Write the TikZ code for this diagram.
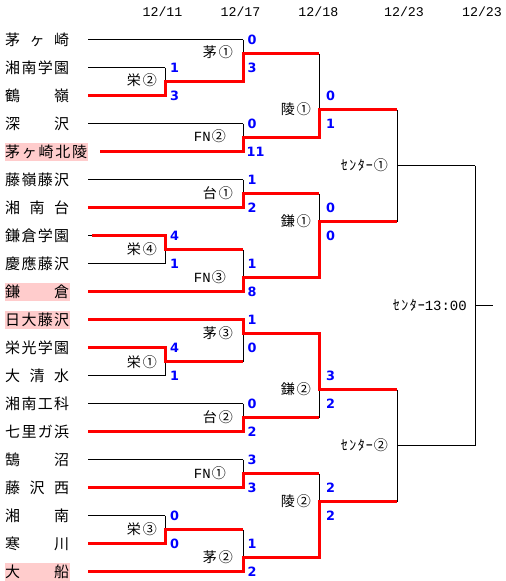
\documentclass[tikz,border=0pt]{standalone}
\usepackage{fontspec}
\newfontfamily\jp{Noto Sans CJK JP}
\newfontfamily\mono{Liberation Mono}
\newfontfamily\scf{DejaVu Sans}
\definecolor{pinkbg}{RGB}{255,204,204}
\definecolor{scblue}{RGB}{0,0,255}
\definecolor{winred}{RGB}{255,0,0}
\tikzset{
  team/.style={anchor=west, inner sep=0pt, font=\jp\fontsize{15}{15}\selectfont},
  pinkteam/.style={team, fill=pinkbg, inner xsep=0.5pt, minimum height=18pt},
  game/.style={anchor=east, inner sep=0pt, font=\jp\fontsize{14}{14}\selectfont},
  score/.style={anchor=west, inner sep=0pt, text=scblue, font=\scf\bfseries\fontsize{12.8}{12.8}\selectfont},
  datelbl/.style={inner sep=0pt, font=\mono\fontsize{13.3}{13.3}\selectfont},
  bline/.style={draw=black, line width=1pt},
  rline/.style={draw=winred, line width=3pt},
}
\newcommand\cen{ｾ\kern1.5ptﾝ\kern1.5ptﾀ\kern1ptｰ}
\begin{document}
\begin{tikzpicture}[x=1pt,y=-1pt]
\useasboundingbox (0,0) rectangle (506,581);
% grid coordinates
\foreach \c/\x in {0/88,1/165,2/243,3/319,4/397,5/475,6/493}{
  \foreach \k in {0,...,38}{
    \coordinate (c\c-\k) at (\x,{39.5+14*\k});
  }
}
\coordinate (s4) at (100,151.5);
\coordinate (s7) at (92,235.5);
% dates
\node[datelbl] (d1) at (162.5,12) {12/11};
\node[datelbl] (d2) at (240.5,12) {12/17};
\node[datelbl] (d3) at (318.3,12) {12/18};
\node[datelbl] (d4) at (404,12) {12/23};
\node[datelbl] (d5) at (482,12) {12/23};
% teams
\node[team] (n0) at (5,39.5) {\makebox[64pt][s]{茅\hfill ヶ\hfill 崎}};
\node[team] (n1) at (5,67.5) {\makebox[64pt][s]{湘\hfill 南\hfill 学\hfill 園}};
\node[team] (n2) at (5,95.5) {\makebox[64pt][s]{鶴\hfill 嶺}};
\node[team] (n3) at (5,123.5) {\makebox[64pt][s]{深\hfill 沢}};
\node[pinkteam] (n4) at (4.5,151.5) {\makebox[82pt][s]{茅\hfill ヶ\hfill 崎\hfill 北\hfill 陵}};
\node[team] (n5) at (5,179.5) {\makebox[64pt][s]{藤\hfill 嶺\hfill 藤\hfill 沢}};
\node[team] (n6) at (5,207.5) {\makebox[64pt][s]{湘\hfill 南\hfill 台}};
\node[team] (n7) at (5,235.5) {\makebox[64pt][s]{鎌\hfill 倉\hfill 学\hfill 園}};
\node[team] (n8) at (5,263.5) {\makebox[64pt][s]{慶\hfill 應\hfill 藤\hfill 沢}};
\node[pinkteam] (n9) at (4.5,291.5) {\makebox[64pt][s]{鎌\hfill 倉}};
\node[pinkteam] (n10) at (4.5,319.5) {\makebox[64pt][s]{日\hfill 大\hfill 藤\hfill 沢}};
\node[team] (n11) at (5,347.5) {\makebox[64pt][s]{栄\hfill 光\hfill 学\hfill 園}};
\node[team] (n12) at (5,375.5) {\makebox[64pt][s]{大\hfill 清\hfill 水}};
\node[team] (n13) at (5,403.5) {\makebox[64pt][s]{湘\hfill 南\hfill 工\hfill 科}};
\node[team] (n14) at (5,431.5) {\makebox[64pt][s]{七\hfill 里\hfill ガ\hfill 浜}};
\node[team] (n15) at (5,459.5) {\makebox[64pt][s]{鵠\hfill 沼}};
\node[team] (n16) at (5,487.5) {\makebox[64pt][s]{藤\hfill 沢\hfill 西}};
\node[team] (n17) at (5,515.5) {\makebox[64pt][s]{湘\hfill 南}};
\node[team] (n18) at (5,543.5) {\makebox[64pt][s]{寒\hfill 川}};
\node[pinkteam] (n19) at (4.5,571.5) {\makebox[64pt][s]{大\hfill 船}};
% black bracket lines
\foreach \k in {0,6,10,12,18,20,26,28,30,32,38} \draw[bline] (c0-\k) -- (c2-\k);
\draw[bline] (s4) -- (c2-8);
\foreach \k in {2,4,14,16,22,24,34,36} \draw[bline] (c0-\k) -- (c1-\k);
\foreach \c/\n/\t/\b/\o in {1/2/2/4/3, 1/2/14/16/15, 1/2/22/24/23, 1/2/34/36/35,
  2/3/0/3/1, 2/3/6/8/7, 2/3/10/12/11, 2/3/15/18/17, 2/3/20/23/21, 2/3/26/28/27, 2/3/30/32/31, 2/3/35/38/37,
  3/4/1/7/5, 3/4/11/17/13, 3/4/21/27/25, 3/4/31/37/33,
  4/5/5/13/9, 4/5/25/33/29, 5/6/9/29/19}{
  \draw[bline] (c\c-\t) -- (c\c-\b);
  \draw[bline] (c\c-\o) -- (c\n-\o);
}
% winner paths
\draw[rline] (c0-4) -- (c1-4) -- (c1-3) -- (c2-3) -- (c2-1) -- (c3-1);
\draw[rline] (s4) -- (c2-8) -- (c2-7) -- (c3-7) -- (c3-5) -- (c4-5);
\draw[rline] (c0-12) -- (c2-12) -- (c2-11) -- (c3-11);
\draw[rline] (s7) -- (c1-14) -- (c1-15) -- (c2-15);
\draw[rline] (c0-18) -- (c2-18) -- (c2-17) -- (c3-17) -- (c3-13) -- (c4-13);
\draw[rline] (c0-20) -- (c2-20) -- (c2-21) -- (c3-21) -- (c3-25) -- (c4-25);
\draw[rline] (c0-22) -- (c1-22) -- (c1-23) -- (c2-23);
\draw[rline] (c0-28) -- (c2-28) -- (c2-27) -- (c3-27);
\draw[rline] (c0-32) -- (c2-32) -- (c2-31) -- (c3-31);
\draw[rline] (c0-36) -- (c1-36) -- (c1-35) -- (c2-35);
\draw[rline] (c0-38) -- (c2-38) -- (c2-37) -- (c3-37) -- (c3-33) -- (c4-33);
% game labels
\node[game] (g1) at (157,80.5) {栄\kern2pt②};
\node[game] (g2) at (157,249) {栄\kern2pt④};
\node[game] (g3) at (157,362) {栄\kern2pt①};
\node[game] (g4) at (157,529) {栄\kern2pt③};
\node[game] (g5) at (233,52.5) {茅\kern2pt①};
\node[game] (g6) at (233,193) {台\kern2pt①};
\node[game] (g7) at (233,333) {茅\kern2pt③};
\node[game] (g8) at (233,417) {台\kern2pt②};
\node[game] (g9) at (233,557) {茅\kern2pt②};
\node[game] (g10) at (226,136.5) {{\mono FN}\kern1pt②};
\node[game] (g11) at (226,277) {{\mono FN}\kern1pt③};
\node[game] (g12) at (226,473) {{\mono FN}\kern1pt①};
\node[game] (g13) at (311,109) {陵\kern2pt①};
\node[game] (g14) at (311,221) {鎌\kern2pt①};
\node[game] (g15) at (311,389) {鎌\kern2pt②};
\node[game] (g16) at (311,501) {陵\kern2pt②};
\node[game] (g17) at (388,165) {\cen\kern1pt①};
\node[game] (g18) at (388,445) {\cen\kern1pt②};
\node[game] (g19) at (467,305) {\cen{\mono 13:00}};
% scores
\node[score] (r1a) at (170,67.5) {1};
\node[score] (r1b) at (170,95.5) {3};
\node[score] (r2a) at (170,235.5) {4};
\node[score] (r2b) at (170,263.5) {1};
\node[score] (r3a) at (170,347.5) {4};
\node[score] (r3b) at (170,375.5) {1};
\node[score] (r4a) at (170,515.5) {0};
\node[score] (r4b) at (170,543.5) {0};
\node[score] (q1a) at (247.5,39.5) {0};
\node[score] (q1b) at (247.5,67.5) {3};
\node[score] (q2a) at (247.5,123.5) {0};
\node[score] (q2b) at (246.5,151.5) {11};
\node[score] (q3a) at (247.5,179.5) {1};
\node[score] (q3b) at (247.5,207.5) {2};
\node[score] (q4a) at (247.5,263.5) {1};
\node[score] (q4b) at (247.5,291.5) {8};
\node[score] (q5a) at (247.5,319.5) {1};
\node[score] (q5b) at (247.5,347.5) {0};
\node[score] (q6a) at (247.5,403.5) {0};
\node[score] (q6b) at (247.5,431.5) {2};
\node[score] (q7a) at (247.5,459.5) {3};
\node[score] (q7b) at (247.5,487.5) {3};
\node[score] (q8a) at (247.5,543.5) {1};
\node[score] (q8b) at (247.5,571.5) {2};
\node[score] (p1a) at (326,95.5) {0};
\node[score] (p1b) at (326,123.5) {1};
\node[score] (p2a) at (326,207.5) {0};
\node[score] (p2b) at (326,235.5) {0};
\node[score] (p3a) at (326,375.5) {3};
\node[score] (p3b) at (326,403.5) {2};
\node[score] (p4a) at (326,487.5) {2};
\node[score] (p4b) at (326,515.5) {2};
\end{tikzpicture}
\end{document}
